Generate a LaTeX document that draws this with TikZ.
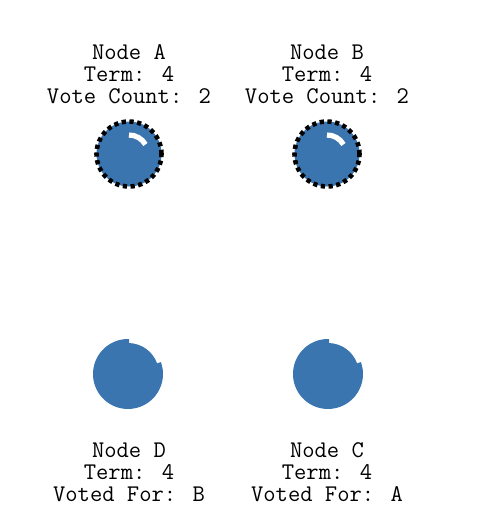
\documentclass[tikz,border=0pt]{standalone}
\usepackage{fontspec}
\usetikzlibrary{positioning}

\definecolor{raftblue}{RGB}{59,117,175}

\begin{document}
\begin{tikzpicture}[info/.style={align=center, inner sep=0pt, font=\ttfamily\fontsize{13.6}{12.6}\selectfont},
                    server/.style={circle, fill=raftblue, minimum size=1.3cm, inner sep=0pt},
                    candidate/.style={server, draw=black, line width=2.6pt, dash pattern=on 2.4pt off 2pt}]

\useasboundingbox (0,0) rectangle (10.08,-10.5);

% candidates
\node[candidate] (a) at (2.58,-3.08) {};
\node[candidate] (b) at (6.54,-3.08) {};
\draw[white, line width=3pt] ([shift={(30:0.38)}]a.center) arc (30:90:0.38);
\draw[white, line width=3pt] ([shift={(30:0.38)}]b.center) arc (30:90:0.38);
\node[info, above=0.3cm of a] (infoA) {Node A\\Term: 4\\Vote Count: 2};
\node[info, above=0.3cm of b] (infoB) {Node B\\Term: 4\\Vote Count: 2};

% followers
\coordinate (d) at (2.56,-7.48);
\coordinate (c) at (6.56,-7.48);
\fill[raftblue] ([shift={(88:0.7)}]d) arc (88:380:0.7) -- ([shift={(20:0.62)}]d) arc (20:88:0.62) -- cycle;
\fill[raftblue] ([shift={(88:0.7)}]c) arc (88:380:0.7) -- ([shift={(20:0.62)}]c) arc (20:88:0.62) -- cycle;
\node[info] (infoD) at (2.58,-9.44) {Node D\\Term: 4\\Voted For: B};
\node[info] (infoC) at (6.54,-9.44) {Node C\\Term: 4\\Voted For: A};
\end{tikzpicture}
\end{document}
